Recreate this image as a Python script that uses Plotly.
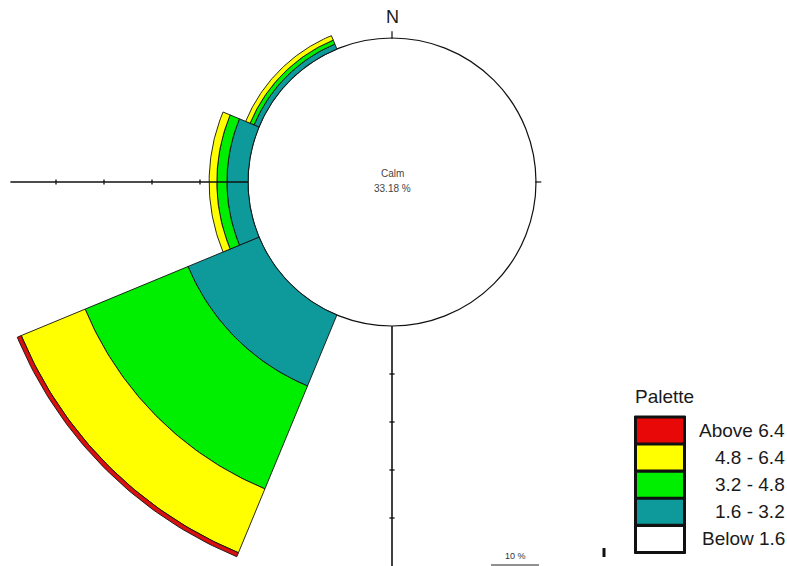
import numpy as np
import plotly.graph_objects as go

# ---------------- data ----------------
directions = ["N", "NE", "E", "SE", "S", "SW", "W", "NW"]
dir_angles = [0, 45, 90, 135, 180, 225, 270, 315]          # compass degrees
speed_classes = ["1.6 - 3.2", "3.2 - 4.8", "4.8 - 6.4", "Above 6.4"]
freq_16_32 = [0, 0, 0, 0, 0, 16.0, 4.4, 1.1]                # percent
freq_32_48 = [0, 0, 0, 0, 0, 23.2, 2.1, 0.9]
freq_48_64 = [0, 0, 0, 0, 0, 14.4, 1.6, 1.0]
freq_above_64 = [0, 0, 0, 0, 0, 0.9, 0.0, 0.0]
calm_pct = 33.18
radial_ticks = [10, 20, 30, 40]
scale_bar_pct = 10

legend_labels = ["Above 6.4", "4.8 - 6.4", "3.2 - 4.8", "1.6 - 3.2", "Below 1.6"]
legend_colors = ["#E80808", "#FFFF00", "#00EE00", "#0E9A9A", "#FFFFFF"]
band_colors = ["#0E9A9A", "#00EE00", "#FFFF00", "#D81010"]

# ---------------- geometry ----------------
W, H = 787, 566
CX, CY = 392, 182          # pixel centre of the rose
PX = 4.8                   # pixels per percent
CALM_R = 30                # calm circle radius in percent units
HALF = 22.5                # half sector width (deg)

def py(p):  # pixel y -> data y
    return (CY - p) / PX

def pxx(p):  # pixel x -> data x
    return (p - CX) / PX

fig = go.Figure()

bands = [freq_16_32, freq_32_48, freq_48_64, freq_above_64]
base = np.full(len(directions), float(CALM_R))
for vals, col in zip(bands, band_colors):
    for i, ang in enumerate(dir_angles):
        v = vals[i]
        if v <= 0:
            continue
        r0, r1 = base[i], base[i] + v
        th = np.radians(np.linspace(ang - HALF, ang + HALF, 60))
        xs = np.concatenate([r1 * np.sin(th), r0 * np.sin(th[::-1])])
        ys = np.concatenate([r1 * np.cos(th), r0 * np.cos(th[::-1])])
        xs = np.append(xs, xs[0]); ys = np.append(ys, ys[0])
        fig.add_trace(go.Scatter(x=xs, y=ys, mode="lines", fill="toself",
                                 fillcolor=col, line=dict(color="#111111", width=0.9),
                                 hoverinfo="skip", showlegend=False))
    base = base + np.array(vals, dtype=float)

shapes = []
# calm circle
shapes.append(dict(type="circle", xref="x", yref="y", x0=-CALM_R, x1=CALM_R,
                   y0=-CALM_R, y1=CALM_R, line=dict(color="#111111", width=1.2),
                   fillcolor="white", layer="below"))
# west axis (drawn over the bars up to the circle)
axis_end = CALM_R + 49.5
shapes.append(dict(type="line", xref="x", yref="y", x0=-axis_end, x1=-CALM_R,
                   y0=0, y1=0, line=dict(color="#111111", width=1.3)))
# south axis
shapes.append(dict(type="line", xref="x", yref="y", x0=0, x1=0,
                   y0=-CALM_R, y1=py(H + 2), line=dict(color="#111111", width=1.6)))
tk = 2.6 / PX
for t in radial_ticks:
    r = CALM_R + t
    shapes.append(dict(type="line", xref="x", yref="y", x0=-r, x1=-r, y0=-tk, y1=tk,
                       line=dict(color="#111111", width=1.3)))
    shapes.append(dict(type="line", xref="x", yref="y", x0=-tk, x1=tk, y0=-r, y1=-r,
                       line=dict(color="#111111", width=1.3)))
# north and east ticks
shapes.append(dict(type="line", xref="x", yref="y", x0=0, x1=0, y0=CALM_R - 0.2,
                   y1=CALM_R + 1.4, line=dict(color="#111111", width=1.2)))
shapes.append(dict(type="line", xref="x", yref="y", x0=CALM_R - 0.2, x1=CALM_R + 1.1,
                   y0=0, y1=0, line=dict(color="#111111", width=1.2)))
# scale bar
sb_c = pxx(515)
shapes.append(dict(type="line", xref="x", yref="y", x0=sb_c - scale_bar_pct / 2,
                   x1=sb_c + scale_bar_pct / 2, y0=py(565), y1=py(565),
                   line=dict(color="#222222", width=1.2)))
# stray mark near legend
shapes.append(dict(type="line", xref="x", yref="y", x0=pxx(604), x1=pxx(604),
                   y0=py(548), y1=py(557), line=dict(color="#111111", width=3)))

# legend (paper coords)
def fx(p): return p / W
def fy(p): return 1 - p / H

shapes.append(dict(type="rect", xref="paper", yref="paper", x0=fx(634.5), x1=fx(685.5),
                   y0=fy(553.5), y1=fy(416), fillcolor="#111111",
                   line=dict(color="#111111", width=1)))
row_top, pitch, row_h = 418.5, 27.1, 24
for k, col in enumerate(legend_colors):
    t = row_top + k * pitch
    shapes.append(dict(type="rect", xref="paper", yref="paper", x0=fx(637), x1=fx(683),
                       y0=fy(t + row_h), y1=fy(t), fillcolor=col, line=dict(width=0)))

ann = []
font_main = "Arial, Liberation Sans, sans-serif"
ann.append(dict(x=0, y=py(17), xref="x", yref="y", text="N", showarrow=False,
                yanchor="middle", font=dict(size=18, color="#1a1a1a", family=font_main)))
ann.append(dict(x=0, y=py(173), xref="x", yref="y", text="Calm", showarrow=False,
                yanchor="middle", font=dict(size=10, color="#444444", family=font_main)))
ann.append(dict(x=0, y=py(188), xref="x", yref="y", text=f"{calm_pct:.2f} %",
                showarrow=False, yanchor="middle",
                font=dict(size=10, color="#444444", family=font_main)))
ann.append(dict(x=sb_c, y=py(556), xref="x", yref="y", text=f"{scale_bar_pct} %",
                showarrow=False, yanchor="middle",
                font=dict(size=9, color="#333333", family=font_main)))
ann.append(dict(x=fx(633), y=fy(396), xref="paper", yref="paper", text="Palette",
                showarrow=False, xanchor="left", yanchor="middle",
                font=dict(size=19, color="#1a1a1a", family=font_main)))
for k, lab in enumerate(legend_labels):
    t = row_top + k * pitch + row_h / 2
    ann.append(dict(x=fx(787), y=fy(t), xref="paper", yref="paper", text=lab,
                    showarrow=False, xanchor="right", yanchor="middle",
                    font=dict(size=19, color="#1a1a1a", family=font_main)))

fig.update_layout(
    width=W, height=H, margin=dict(l=0, r=0, t=0, b=0),
    paper_bgcolor="white", plot_bgcolor="white",
    xaxis=dict(range=[pxx(0), pxx(W)], visible=False, fixedrange=True),
    yaxis=dict(range=[py(H), py(0)], visible=False, fixedrange=True),
    shapes=shapes, annotations=ann, showlegend=False,
)
fig.write_html("out.html")
